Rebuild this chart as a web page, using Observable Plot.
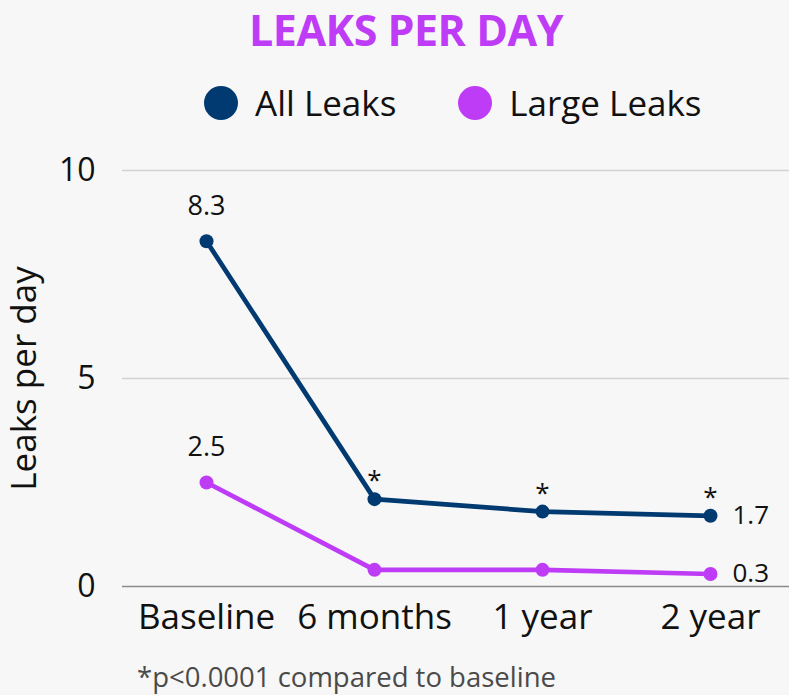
<!DOCTYPE html>
<html>
<head>
<meta charset="utf-8">
<script src="https://cdn.jsdelivr.net/npm/d3@7"></script>
<script src="https://cdn.jsdelivr.net/npm/@observablehq/plot@0.6"></script>
<style>
  html, body { margin: 0; padding: 0; background: #f7f7f7; }
  body { width: 789px; height: 695px; position: relative; overflow: hidden; font-family: "Open Sans", sans-serif; }
  #title { position: absolute; left: 406px; top: 0; transform: translateX(-50%); font-weight: 700; font-size: 43px; color: #bf3cf6; letter-spacing: -0.5px; white-space: nowrap; }
  #legend { position: absolute; left: 204px; top: 79px; display: flex; align-items: center; font-size: 35px; color: #111; white-space: nowrap; }
  .sw { width: 34px; height: 34px; border-radius: 50%; display: inline-block; margin-right: 17px; }
  .item { display: flex; align-items: center; margin-right: 62px; }
  #chart { position: absolute; left: 0; top: 140px; }
  #foot { position: absolute; left: 137px; top: 658px; font-size: 27.5px; color: #4a4a4a; white-space: nowrap; }
</style>
</head>
<body>
<div id="title">LEAKS PER DAY</div>
<div id="legend"></div>
<div id="chart"></div>
<div id="foot">*p&lt;0.0001 compared to baseline</div>
<script>
const categories = ["Baseline", "6 months", "1 year", "2 year"];
const seriesNames = ["All Leaks", "Large Leaks"];
const seriesColors = ["#003a70", "#bf3cf6"];
const allLeaks = [8.3, 2.1, 1.8, 1.7];
const largeLeaks = [2.5, 0.4, 0.4, 0.3];
const significance = ["", "*", "*", "*"];
const yTicks = [0, 5, 10];

const rows = [];
categories.forEach((c, i) => {
  rows.push({cat: c, series: seriesNames[0], value: allLeaks[i], sig: significance[i], idx: i});
  rows.push({cat: c, series: seriesNames[1], value: largeLeaks[i], sig: "", idx: i});
});
const last = categories.length - 1;

// legend
const legend = document.getElementById("legend");
seriesNames.forEach((s, i) => {
  const it = document.createElement("div");
  it.className = "item";
  it.innerHTML = `<span class="sw" style="background:${seriesColors[i]}"></span><span>${s}</span>`;
  legend.appendChild(it);
});

const chart = Plot.plot({
  width: 789,
  height: 510,
  marginLeft: 122,
  marginRight: 0,
  marginTop: 30,
  marginBottom: 64,
  style: {fontFamily: "Open Sans, sans-serif", fontSize: "32px", color: "#111", background: "transparent", overflow: "visible"},
  x: {type: "point", domain: categories, range: [206, 710], padding: 0},
  y: {domain: [0, 10]},
  color: {domain: seriesNames, range: seriesColors},
  marks: [
    Plot.ruleY(yTicks.filter(d => d > 0), {stroke: "#d2d2d2", strokeWidth: 1.5}),
    Plot.ruleY([0], {stroke: "#8a8a8a", strokeWidth: 1.5}),
    Plot.axisX({tickSize: 0, tickPadding: 18, fontSize: 35, label: null, fill: "#111"}),
    Plot.axisY({ticks: yTicks, tickSize: 0, tickPadding: 27, fontSize: 32, fill: "#111", label: null}),
    Plot.axisY({ticks: [], tickSize: 0, fontSize: 35, fill: "#111",
      label: "Leaks per day", labelAnchor: "center", labelArrow: "none", labelOffset: 111}),
    Plot.line(rows, {x: "cat", y: "value", stroke: "series", strokeWidth: 4.7}),
    Plot.dot(rows, {x: "cat", y: "value", fill: "series", r: 7}),
    Plot.text(rows.filter(d => d.idx === 0), {x: "cat", y: "value", text: d => d.value.toFixed(1), dy: -35, fontSize: 27, fill: "#111"}),
    Plot.text(rows.filter(d => d.idx === last), {x: "cat", y: "value", text: d => d.value.toFixed(1), dx: 22, textAnchor: "start", fontSize: 26, fill: "#111"}),
    Plot.text(rows.filter(d => d.sig), {x: "cat", y: "value", text: "sig", dy: -18, fontSize: 26, fill: "#111"})
  ]
});
document.getElementById("chart").appendChild(chart);
</script>
</body>
</html>
